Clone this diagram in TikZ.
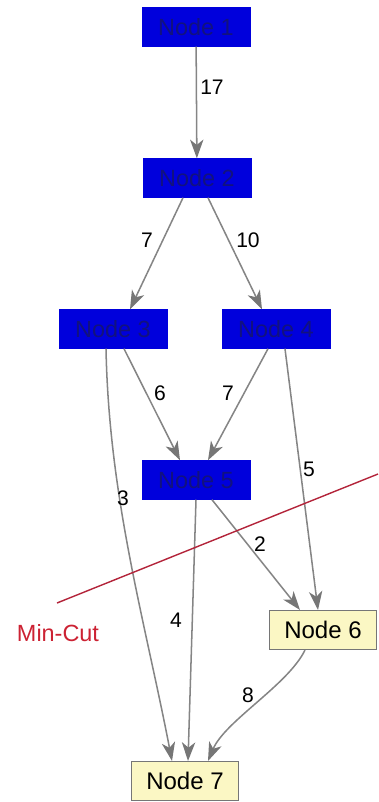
\documentclass[tikz,border=0pt]{standalone}
\usepackage{fontspec}
\setmainfont{Liberation Sans}
\usetikzlibrary{arrows.meta, calc, positioning}
\definecolor{nodeblue}{HTML}{0000DC}
\definecolor{nodetext}{HTML}{12127E}
\definecolor{sinkyel}{HTML}{FBF7C4}
\definecolor{edgegray}{HTML}{858585}
\definecolor{headgray}{HTML}{767676}
\definecolor{cutred}{HTML}{B3243A}
\definecolor{cuttext}{HTML}{CC2233}
\tikzset{
  % nodo interno della rete
  inbox/.style={draw=nodeblue, fill=nodeblue, text=nodetext, minimum width=3.24cm,
    minimum height=1.17cm, inner sep=0pt, font=\fontsize{20}{24}\selectfont},
  % nodo a valle del taglio
  outbox/.style={draw=headgray, line width=0.9pt, fill=sinkyel, minimum width=3.2cm,
    minimum height=1.17cm, inner sep=0pt, font=\fontsize{20.5}{24}\selectfont},
  % arco con capacita'
  flow/.style={draw=edgegray, line width=1.3pt,
    -{Stealth[length=5.6mm, width=4mm, inset=1.6mm, color=headgray]}},
  % etichetta di capacita'
  wlbl/.style={font=\fontsize{18}{22}\selectfont, inner sep=1pt},
  % linea del taglio minimo
  cutline/.style={cutred, line width=1.2pt},
}
\begin{document}
\begin{tikzpicture}[x=0.03cm, y=-0.03cm]
  \useasboundingbox (0,0) rectangle (378,802);
  \node[inbox] (n1) at (196,27) {Node 1};
  \node[inbox] (n2) at (197,178) {Node 2};
  \node[inbox] (n3) at (113,329) {Node 3};
  \node[inbox] (n4) at (276,329) {Node 4};
  \node[inbox] (n5) at (196,480) {Node 5};
  \node[outbox] (n6) at (323,630) {Node 6};
  \node[outbox] (n7) at (185,781) {Node 7};
  % archi
  \draw[flow] (n1) -- (n2);
  \draw[flow] ($(n2.south)+(-14,0)$) -- ($(n3.north)+(17,0)$);
  \draw[flow] ($(n2.south)+(11,0)$) -- ($(n4.north)+(-14,0)$);
  \draw[flow] ($(n3.south)+(11,0)$) -- ($(n5.north)+(-16,0)$);
  \draw[flow] ($(n4.south)+(-8,0)$) -- ($(n5.north)+(12,0)$);
  \draw[flow] ($(n3.south)+(-7,0)$) .. controls ($(n3.south)+(-4,150)$) and ($(n7.north)+(-40,-140)$) .. ($(n7.north)+(-13,0)$);
  \draw[flow] ($(n4.south)+(9,0)$) -- ($(n6.north)+(-5,0)$);
  \draw[flow] (n5.south) -- ($(n7.north)+(3,0)$);
  \draw[flow] ($(n5.south)+(16,0)$) -- ($(n6.north)+(-23,0)$);
  \draw[flow] ($(n6.south)+(-18,0)$) .. controls ($(n6.south)+(-35,35)$) and ($(n7.north)+(40,-40)$) .. ($(n7.north)+(23,0)$);
  % capacita'
  \node[wlbl] (w12) at (212,87) {17};
  \node[wlbl] (w23) at (147,240) {7};
  \node[wlbl] (w24) at (248,240) {10};
  \node[wlbl] (w35) at (160,393) {6};
  \node[wlbl] (w45) at (228,393) {7};
  \node[wlbl] (w37) at (123,498) {3};
  \node[wlbl] (w46) at (309,469) {5};
  \node[wlbl] (w57) at (176,620) {4};
  \node[wlbl] (w56) at (260,544) {2};
  \node[wlbl] (w67) at (248,695) {8};
  % taglio minimo
  \draw[cutline] (57,603) -- (378,474);
  \node[text=cuttext, font=\fontsize{20}{24}\selectfont] (cut) at (58,633) {Min-Cut};
\end{tikzpicture}
\end{document}
